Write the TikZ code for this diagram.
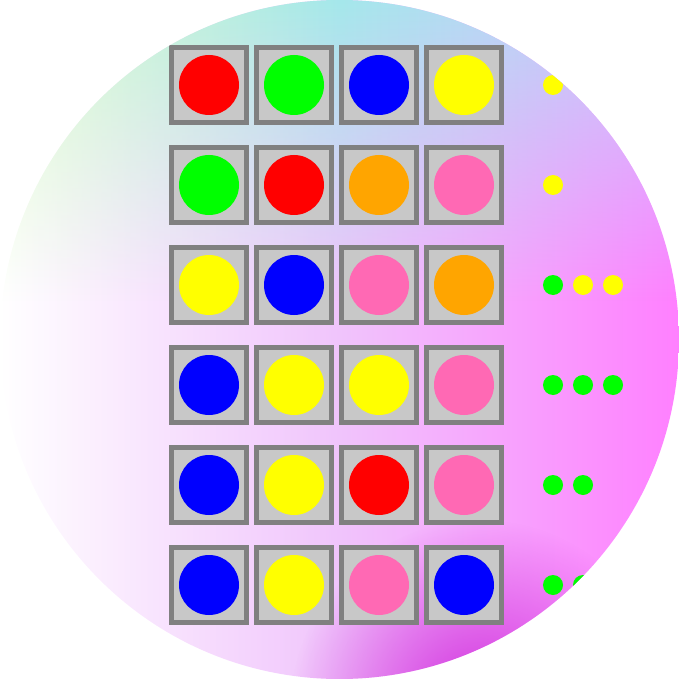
\documentclass[tikz,border=0pt]{standalone}
\usepackage{tikz}
\usetikzlibrary{fadings}
\definecolor{pegred}{RGB}{255,0,0}
\definecolor{peggreen}{RGB}{0,255,0}
\definecolor{pegblue}{RGB}{0,0,255}
\definecolor{pegyellow}{RGB}{255,255,0}
\definecolor{pegorange}{RGB}{255,165,0}
\definecolor{pegpink}{RGB}{255,105,180}
\definecolor{holeframe}{RGB}{128,128,128}
\definecolor{holefill}{RGB}{200,200,200}
\definecolor{bglilac}{RGB}{240,196,252}
\definecolor{bgmagenta}{RGB}{255,128,255}
\definecolor{bggreen}{RGB}{222,255,200}
\definecolor{bgcyan}{RGB}{165,232,235}
\definecolor{bglavender}{RGB}{202,200,255}
\definecolor{bgdark}{RGB}{205,40,218}
\tikzfading[name=topfade, top color=transparent!0, bottom color=transparent!100]
\tikzfading[name=glowfade, inner color=transparent!5, outer color=transparent!100]
\tikzset{
  hole/.style={rectangle,draw=holeframe,fill=holefill,line width=2.5pt,
               minimum size=37.5pt,inner sep=0pt},
  peg/.style={circle,minimum size=30pt,inner sep=0pt},
  keypeg/.style={circle,minimum size=10pt,inner sep=0pt},
}
\begin{document}
\begin{tikzpicture}[x=0.5pt,y=-0.5pt]
  \useasboundingbox (0,0) rectangle (679,679);
  \coordinate (mid) at (339.5,339.5);
  \begin{scope}
    \clip (mid) circle[radius=339.5];
    % backdrop (middle color last, or it gets averaged)
    \shade[left color=white,right color=bgmagenta,middle color=bglilac] (0,0) rectangle (679,679);
    \shade[left color=bggreen,right color=bglavender,middle color=bgcyan,path fading=topfade]
      (0,0) rectangle (679,300);
    \fill[bgdark,path fading=glowfade] (480,710) circle[radius=190];
    % guesses
    \foreach \row/\a/\b/\c/\d in {1/pegred/peggreen/pegblue/pegyellow,
                                  2/peggreen/pegred/pegorange/pegpink,
                                  3/pegyellow/pegblue/pegpink/pegorange,
                                  4/pegblue/pegyellow/pegyellow/pegpink,
                                  5/pegblue/pegyellow/pegred/pegpink,
                                  6/pegblue/pegyellow/pegpink/pegblue} {
      \foreach \col/\clr in {1/\a,2/\b,3/\c,4/\d} {
        \node[hole] (h\row\col) at ({124+85*\col},{-15+100*\row}) {};
        \node[peg,fill=\clr] (p\row\col) at (h\row\col) {};
      }
    }
    % scores
    \foreach \row/\keys in {1/{pegyellow},2/{pegyellow},
                            3/{peggreen,pegyellow,pegyellow},
                            4/{peggreen,peggreen,peggreen},
                            5/{peggreen,peggreen},6/{peggreen,peggreen}} {
      \foreach \clr [count=\k] in \keys {
        \node[keypeg,fill=\clr] (k\row\k) at ({523+30*\k},{-15+100*\row}) {};
      }
    }
  \end{scope}
\end{tikzpicture}
\end{document}
